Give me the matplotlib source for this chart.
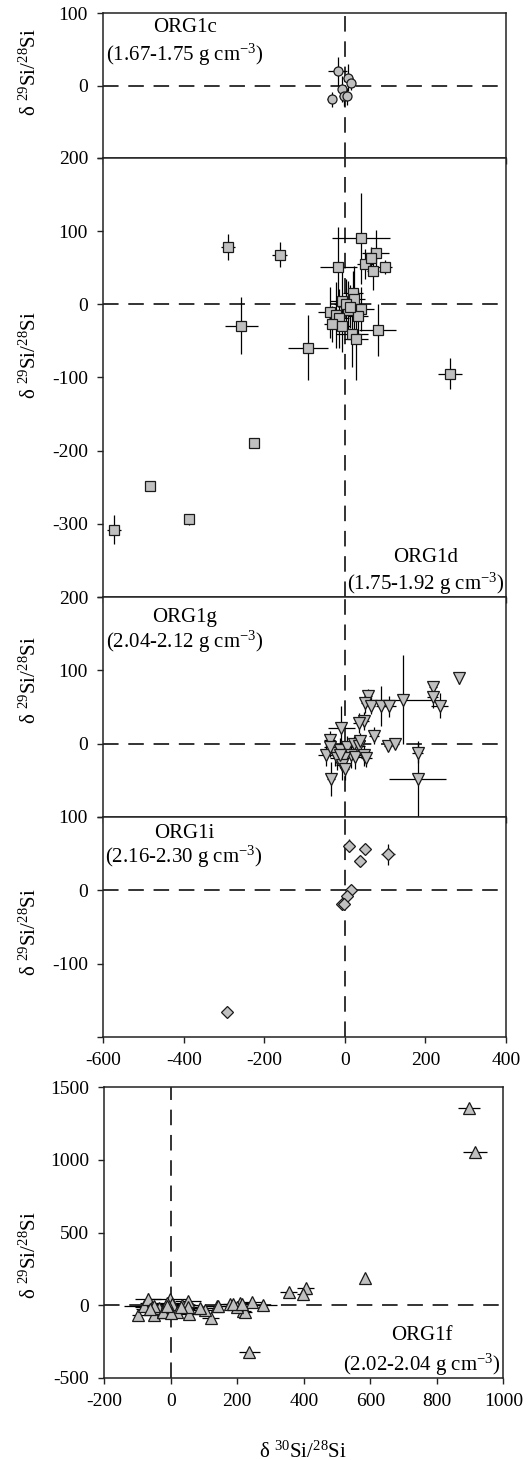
import numpy as np
import matplotlib
matplotlib.use("Agg")
import matplotlib.pyplot as plt

plt.rcParams['font.family'] = ['Liberation Serif', 'DejaVu Serif']
plt.rcParams['mathtext.fontset'] = 'custom'
plt.rcParams['mathtext.rm'] = 'Liberation Serif'
plt.rcParams['mathtext.default'] = 'regular'
plt.rcParams['axes.unicode_minus'] = False

# -----------------------------
# Data
# -----------------------------
# ORG1c (1.67-1.75 g cm-3), circles
c_x = [-18, 7, 15, -8, -2, 4, -33]
c_y = [20, 11, 4, -5, -14, -15, -19]
c_xerr = [23, 12, 11, 10, 12, 10, 12]
c_yerr = [20, 19, 10, 18, 14, 12, 10]

# ORG1d (1.75-1.92 g cm-3), squares
d_x = [-290, -162, -257, -91, 40, 76, 50, 65, 69, 99, -17, 19, -8, 22, -36, -21,
       8, 41, 33, -15, -31, -7, 17, 27, 81, 260, -225, -484, -386, -573, 2, 12]
d_y = [78, 68, -29, -59, 90, 70, 55, 64, 45, 51, 51, 16, 5, 7, -11, -14,
       -8, -6, -16, -19, -27, -30, -41, -48, -35, -95, -189, -248, -294, -308, 0, -3]
d_xerr = [18, 19, 40, 50, 72, 34, 20, 15, 15, 17, 46, 25, 30, 28, 30, 25,
          35, 30, 25, 25, 20, 20, 40, 30, 46, 30, 4, 4, 5, 17, 30, 25]
d_yerr = [18, 17, 39, 44, 62, 31, 20, 15, 25, 10, 55, 30, 40, 45, 35, 45,
          40, 30, 35, 40, 25, 35, 45, 55, 35, 21, 5, 5, 7, 20, 35, 30]

# ORG1g (2.04-2.12 g cm-3), down triangles
g_x = [283, 218, 218, 235, 143, 57, 51, 65, 90, 110, 47, 34, 72, 106, 125, 181, 181,
       -9, -38, -34, -48, -24, -11, 5, 22, 34, 14, 26, 47, 53, -3, -20, -7, 1, 38, -36, -13]
g_y = [89, 77, 64, 52, 60, 65, 56, 52, 51, 51, 31, 28, 11, -3, 0, -13, -48,
       22, 5, -48, -15, -13, -8, -4, -1, -3, -15, -18, -16, -20, -20, -20, -29, -35, 3, -4, -15]
g_xerr = [8, 10, 14, 22, 75, 10, 12, 10, 14, 16, 12, 14, 12, 10, 10, 14, 71,
          33, 14, 10, 18, 16, 14, 18, 20, 16, 14, 16, 12, 14, 12, 16, 16, 10, 12, 16, 18]
g_yerr = [8, 8, 16, 17, 61, 10, 14, 12, 27, 14, 12, 14, 12, 6, 6, 14, 52,
          30, 12, 23, 16, 18, 16, 14, 12, 14, 18, 16, 14, 12, 18, 16, 20, 14, 12, 14, 18]

# ORG1i (2.16-2.30 g cm-3), diamonds
i_x = [11, 50, 37, 107, 14, 4, -7, -2, -292]
i_y = [61, 57, 40, 49, 0, -8, -19, -18, -166]
i_xerr = [4, 5, 5, 17, 4, 4, 4, 4, 4]
i_yerr = [9, 5, 7, 14, 4, 4, 4, 4, 5]

# ORG1f (2.02-2.04 g cm-3), up triangles
f_x = [898, 915, 584, 354, 406, 399, 236, 278, 243, 178, 208, 216, 223, 198, 138, 120,
       103, 143, 186, 213, -98, -82, -68, -52, -57, -36, -22, -3, 3, 3, 33, 52,
       54, 53, -12, -24, 18, 89, 0, 31, -52, -10, -64]
f_y = [1354, 1056, 186, 92, 121, 76, 321 * -1, 3, 23, 12, 14, -39, -46, -14, -5, -88,
       -36, -5, 7, 10, -64, -5, 41, -66, -14, -18, -46, 46, -25, 12, 2, 30,
       -58, -14, 14, -46, -46, -21, -50, -12, -5, -5, -27]
f_xerr = [33, 36, 10, 25, 25, 20, 32, 40, 30, 30, 35, 25, 20, 25, 40, 25,
          40, 30, 30, 25, 20, 60, 40, 30, 50, 40, 60, 60, 70, 50, 60, 40,
          40, 50, 80, 40, 50, 40, 60, 50, 60, 70, 40]
f_yerr = [20, 20, 10, 10, 15, 15, 10, 15, 15, 15, 15, 20, 20, 20, 15, 30,
          20, 15, 15, 15, 25, 20, 40, 25, 20, 20, 25, 30, 25, 20, 20, 25,
          25, 20, 20, 25, 20, 20, 25, 20, 20, 20, 20]

# -----------------------------
# Figure layout (pixel boxes of the reference)
# -----------------------------
W, H = 528, 1460
fig = plt.figure(figsize=(W / 100, H / 100), dpi=100)


def add_axes_px(left, right, top, bottom):
    return fig.add_axes([left / W, 1 - bottom / H, (right - left) / W, (bottom - top) / H])


FACE = '#c0c0c0'
EDGE = '#1a1a1a'
DASH = (0, (8, 5))
TICK_FS = 14
ANN_FS = 15


def style_axes(ax):
    for sp in ax.spines.values():
        sp.set_linewidth(1.1)
        sp.set_color('#222222')
    ax.tick_params(direction='out', length=4, width=1, labelsize=TICK_FS, pad=7, color='#222222')


def draw(ax, x, y, xerr, yerr, marker, ms):
    ax.errorbar(x, y, xerr=xerr, yerr=yerr, fmt='none', ecolor='black',
                elinewidth=0.9, capsize=0, zorder=2)
    ax.plot(x, y, ls='none', marker=marker, ms=ms, mfc=FACE, mec=EDGE, mew=0.9, zorder=3)
    ax.axhline(0, color='#333333', lw=1.4, ls=DASH, zorder=1)
    ax.axvline(0, color='#333333', lw=1.4, ls=DASH, zorder=1)


panels = [
    (13, 158, (-100, 100), [100, 0, -100], c_x, c_y, c_xerr, c_yerr, 'o', 6.5),
    (158, 597, (-400, 200), [200, 100, 0, -100, -200, -300, -400], d_x, d_y, d_xerr, d_yerr, 's', 7),
    (597, 817, (-100, 200), [200, 100, 0, -100], g_x, g_y, g_xerr, g_yerr, 'v', 8),
    (817, 1037, (-200, 100), [100, 0, -100, -200], i_x, i_y, i_xerr, i_yerr, 'D', 6.5),
]

axes = []
for top, bottom, ylim, yt, x, y, xe, ye, mk, ms in panels:
    ax = add_axes_px(103.3, 506, top, bottom)
    draw(ax, x, y, xe, ye, mk, ms)
    ax.set_xlim(-600, 400)
    ax.set_ylim(*ylim)
    ax.set_xticks([-600, -400, -200, 0, 200, 400])
    ax.set_yticks(yt)
    # bottom label of each panel is left out, as in the reference
    ax.set_yticklabels([str(v) for v in yt[:-1]] + [''])
    style_axes(ax)
    ax.tick_params(axis='x', labelbottom=False)
    axes.append(ax)

axes[-1].tick_params(axis='x', labelbottom=True)

# ORG1f panel
axf = add_axes_px(104.3, 503.3, 1087, 1378)
draw(axf, f_x, f_y, f_xerr, f_yerr, '^', 8)
axf.set_xlim(-200, 1000)
axf.set_ylim(-500, 1500)
axf.set_xticks([-200, 0, 200, 400, 600, 800, 1000])
axf.set_yticks([-500, 0, 500, 1000, 1500])
style_axes(axf)

# y labels
ylab = 'δ $^{29}$Si/$^{28}$Si'
for yc in [72, 355, 680, 932, 1255]:
    fig.text(30 / W, 1 - yc / H, ylab, rotation=90, ha='center', va='center', fontsize=15)

fig.text(303 / W, 1 - 1452 / H, 'δ $^{30}$Si/$^{28}$Si', ha='center', va='center', fontsize=15)

# panel annotations
notes = [
    ('ORG1c', '(1.67-1.75 g cm$^{-3}$)', 185, 28, 55),
    ('ORG1d', '(1.75-1.92 g cm$^{-3}$)', 426, 557, 584),
    ('ORG1g', '(2.04-2.12 g cm$^{-3}$)', 185, 617, 642),
    ('ORG1i', '(2.16-2.30 g cm$^{-3}$)', 184, 833, 857),
    ('ORG1f', '(2.02-2.04 g cm$^{-3}$)', 422, 1335, 1365),
]
for name, dens, xc, y1, y2 in notes:
    fig.text(xc / W, 1 - y1 / H, name, ha='center', va='center', fontsize=ANN_FS)
    fig.text(xc / W, 1 - y2 / H, dens, ha='center', va='center', fontsize=ANN_FS)

fig.savefig('out.png', dpi=100)
